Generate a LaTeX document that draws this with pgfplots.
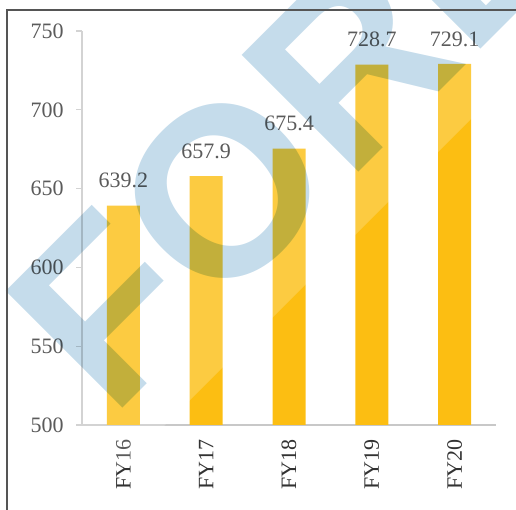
\documentclass[border=0pt]{standalone}
\usepackage{pgfplots}
\pgfplotsset{compat=1.18}
\usepackage{fontspec}
\setmainfont{Liberation Serif}
\newfontfamily\wmfont{Liberation Sans}
\definecolor{barcol}{RGB}{252,190,18}
\definecolor{txtcol}{RGB}{50,50,50}
\definecolor{axcol}{RGB}{200,200,200}
\definecolor{wmcol}{RGB}{197,220,235}
\definecolor{framecol}{RGB}{85,85,85}

\begin{document}
\begin{tikzpicture}[x=1pt,y=1pt]
\useasboundingbox (-61.5,-63) rectangle (325.5,318.75);
\clip (-61.5,-63) rectangle (325.5,318.75);
\begin{axis}[
    at={(0,0)}, anchor=south west,
    scale only axis,
    width=310.5pt, height=295.5pt,
    ybar, bar width=24.75pt,
    xmin=-0.5, xmax=4.5,
    ymin=500, ymax=750,
    ytick={500,550,600,650,700,750},
    xtick={0,1,2,3,4},
    xticklabels={FY16,FY17,FY18,FY19,FY20},
    axis x line*=bottom, axis y line*=left,
    axis line style={axcol, line width=0.8pt},
    xtick style={draw=none},
    ytick style={axcol, line width=0.8pt},
    tick align=outside, major tick length=4.5pt,
    tick label style={font=\fontsize{16.5}{16.5}\selectfont, text=txtcol},
    /pgf/number format/assume math mode=true,
    yticklabel style={anchor=east, inner sep=0pt, xshift=-9pt},
    xticklabel style={yshift=-6pt, rotate=90, anchor=east, inner sep=0pt},
    nodes near coords,
    point meta=explicit symbolic,
    nodes near coords style={font=\fontsize{16.5}{16.5}\selectfont, text=txtcol,
        anchor=south, inner sep=0pt, yshift=13pt},
    clip=false,
]
\addplot[fill=barcol, draw=none] coordinates {
    (0,639.2) [639.2]
    (1,657.9) [657.9]
    (2,675.4) [675.4]
    (3,728.7) [728.7]
    (4,729.1) [729.1]
};
\end{axis}
% watermark: pale diagonal sheet and letters
\fill[white, opacity=0.2] (-70,-132.25) -- (400,337.75) -- (400,400) -- (-70,400) -- cycle;
\begin{scope}[blend mode=multiply]
\node[rotate=45, text=wmcol, inner sep=0pt,
      font=\wmfont\bfseries\fontsize{180}{180}\selectfont] at (155.25,225) {FORE};
\end{scope}
% outer frame (top and left edges)
\draw[framecol, line width=1.1pt] (-56.25,-70) -- (-56.25,311.25) -- (330,311.25);
\end{tikzpicture}
\end{document}
